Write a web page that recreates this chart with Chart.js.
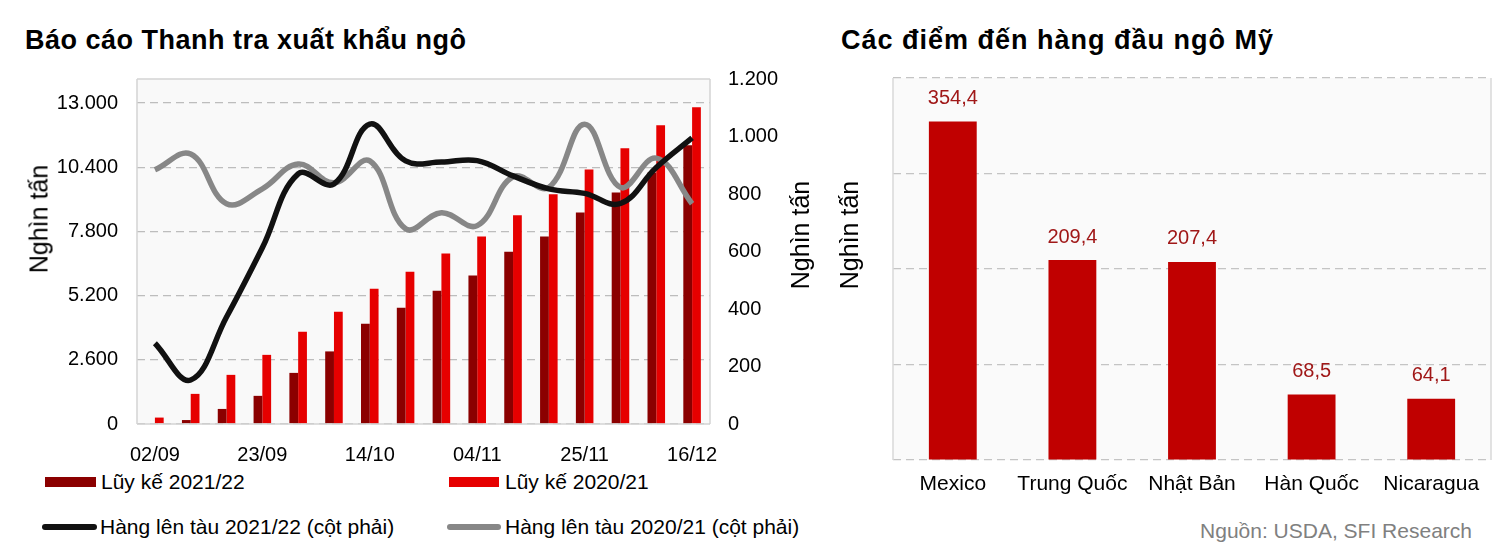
<!DOCTYPE html>
<html lang="vi">
<head>
<meta charset="utf-8">
<title>Ngô Mỹ</title>
<script src="https://cdn.jsdelivr.net/npm/chart.js@4.4.1/dist/chart.umd.min.js"></script>
<style>
    html, body { margin: 0; padding: 0; background: #fff; }
    body { width: 1493px; height: 555px; position: relative; overflow: hidden;
           font-family: "Liberation Sans", Arial, sans-serif; color: #000; }
    .abs { position: absolute; white-space: nowrap; }
    .title { font-weight: bold; font-size: 27px; letter-spacing: 0.5px; transform: translateY(-50%); }
    .ytitle { font-size: 25px; transform: translate(-50%, -50%) rotate(-90deg); }
    .legend-text { font-size: 21px; transform: translateY(-50%); }
    .swatch { position: absolute; }
    #leftWrap { position: absolute; left: 0; top: 60px; width: 830px; height: 410px; }
    #rightWrap { position: absolute; left: 830px; top: 60px; width: 663px; height: 450px; }
</style>
</head>
<body>

<div class="abs title" style="left:25px; top:40px;">Báo cáo Thanh tra xuất khẩu ngô</div>
<div class="abs title" style="left:841px; top:40px; letter-spacing:1px;">Các điểm đến hàng đầu ngô Mỹ</div>

<div id="leftWrap"><canvas id="inspectChart"></canvas></div>
<div id="rightWrap"><canvas id="destChart"></canvas></div>

<div class="abs ytitle" style="left:39px; top:219px;">Nghìn tấn</div>
<div class="abs ytitle" style="left:800px; top:235px;">Nghìn tấn</div>
<div class="abs ytitle" style="left:849px; top:235px;">Nghìn tấn</div>

<!-- legend -->
<div class="swatch" style="left:45px; top:477px; width:51px; height:10px; background:#8B0000;"></div>
<div class="abs legend-text" style="left:101px; top:482px;">Lũy kế 2021/22</div>
<div class="swatch" style="left:449px; top:477px; width:50px; height:10px; background:#E60000;"></div>
<div class="abs legend-text" style="left:505px; top:482px;">Lũy kế 2020/21</div>
<div class="swatch" style="left:42px; top:524px; width:55px; height:6px; border-radius:3px; background:#111;"></div>
<div class="abs legend-text" style="left:100px; top:527px;">Hàng lên tàu 2021/22 (cột phải)</div>
<div class="swatch" style="left:447px; top:524px; width:54px; height:6px; border-radius:3px; background:#878787;"></div>
<div class="abs legend-text" style="left:505px; top:527px;">Hàng lên tàu 2020/21 (cột phải)</div>

<div class="abs" style="right:21px; top:531px; transform:translateY(-50%); font-size:21px; color:#808080;">Nguồn: USDA, SFI Research</div>

<script>
// --- Data ---
const weeks = ['02/09', '09/09', '16/09', '23/09', '30/09', '07/10', '14/10', '21/10',
               '28/10', '04/11', '11/11', '18/11', '25/11', '02/12', '09/12', '16/12'];

// cumulative inspections, thousand tonnes (left axis)
const cum2122 = [0, 160, 610, 1140, 2070, 2940, 4060, 4710, 5400, 6010, 6980, 7590, 8570, 9380, 10190, 11290];
const cum2021 = [260, 1220, 1990, 2800, 3740, 4550, 5480, 6170, 6900, 7590, 8450, 9300, 10310, 11170, 12100, 12830];

// weekly shipments, thousand tonnes (right axis)
const ship2122 = [281, 153, 372, 613, 870, 835, 1043, 915, 911, 916, 863, 818, 802, 767, 892, 995];
const ship2021 = [884, 939, 766, 818, 904, 839, 915, 679, 735, 690, 860, 823, 1043, 823, 925, 766];

const leftTicks = [0, 2600, 5200, 7800, 10400, 13000];
const rightTicks = [0, 200, 400, 600, 800, 1000, 1200];

const destinations = ['Mexico', 'Trung Quốc', 'Nhật Bản', 'Hàn Quốc', 'Nicaragua'];
const destValues = [354.4, 209.4, 207.4, 68.5, 64.1];

// --- Helpers ---
Chart.defaults.font.family = '"Liberation Sans", Arial, sans-serif';
Chart.defaults.color = '#000';
Chart.defaults.animation = false;

const fmtThousands = v => Number(v).toLocaleString('de-DE');

// fixed axis size, no extra label padding
const fixWidth = w => s => { s.width = w; s.paddingTop = 0; s.paddingBottom = 0; };

// plot area background + border lines
const plotBox = {
    id: 'plotBox',
    beforeDraw(chart, args, opts) {
        const {ctx, chartArea: a} = chart;
        ctx.save();
        ctx.fillStyle = opts.fill || '#f9f9f9';
        ctx.fillRect(a.left, a.top, a.right - a.left, a.bottom - a.top);
        ctx.restore();
    },
    afterDatasetsDraw(chart, args, opts) {
        const {ctx, chartArea: a} = chart;
        ctx.save();
        ctx.strokeStyle = opts.stroke || '#d9d9d9';
        ctx.lineWidth = 1.5;
        ctx.beginPath();
        (opts.sides || ['left', 'right', 'top', 'bottom']).forEach(s => {
            if (s === 'left') { ctx.moveTo(a.left, a.top); ctx.lineTo(a.left, a.bottom); }
            if (s === 'right') { ctx.moveTo(a.right, a.top); ctx.lineTo(a.right, a.bottom); }
            if (s === 'top') { ctx.moveTo(a.left, a.top); ctx.lineTo(a.right, a.top); }
            if (s === 'bottom') { ctx.moveTo(a.left, a.bottom); ctx.lineTo(a.right, a.bottom); }
        });
        ctx.stroke();
        ctx.restore();
    }
};

// value labels above bars (comma decimal)
const barLabels = {
    id: 'barLabels',
    afterDatasetsDraw(chart) {
        const {ctx} = chart;
        const meta = chart.getDatasetMeta(0);
        ctx.save();
        ctx.fillStyle = '#A01818';
        ctx.font = '20px "Liberation Sans", Arial, sans-serif';
        ctx.textAlign = 'center';
        ctx.textBaseline = 'bottom';
        meta.data.forEach((bar, i) => {
            const txt = destValues[i].toFixed(1).replace('.', ',');
            ctx.fillText(txt, bar.x, bar.y - 13);
        });
        ctx.restore();
    }
};

// --- Left chart: inspections + shipments ---
function initInspectChart() {
    const ctx = document.getElementById('inspectChart').getContext('2d');
    return new Chart(ctx, {
        data: {
            labels: weeks,
            datasets: [
                {
                    type: 'line', label: 'Hàng lên tàu 2021/22 (cột phải)', data: ship2122,
                    yAxisID: 'yR', borderColor: '#111', borderWidth: 5.5, pointRadius: 0,
                    tension: 0.4, fill: false, order: 0
                },
                {
                    type: 'line', label: 'Hàng lên tàu 2020/21 (cột phải)', data: ship2021,
                    yAxisID: 'yR', borderColor: '#878787', borderWidth: 5.5, pointRadius: 0,
                    tension: 0.4, fill: false, order: 1
                },
                {
                    type: 'bar', label: 'Lũy kế 2021/22', data: cum2122, yAxisID: 'yL',
                    backgroundColor: '#8B0000', categoryPercentage: 0.49, barPercentage: 1, order: 2
                },
                {
                    type: 'bar', label: 'Lũy kế 2020/21', data: cum2021, yAxisID: 'yL',
                    backgroundColor: '#E60000', categoryPercentage: 0.49, barPercentage: 1, order: 3
                }
            ]
        },
        options: {
            responsive: true,
            maintainAspectRatio: false,
            layout: { padding: { top: 19, left: 0, right: 0, bottom: 0 } },
            plugins: {
                legend: { display: false },
                tooltip: { enabled: false },
                plotBox: { fill: '#f9f9f9', stroke: '#d4d4d4' }
            },
            scales: {
                x: {
                    offset: true,
                    grid: { display: false },
                    border: { display: false },
                    ticks: {
                        autoSkip: false, maxRotation: 0, padding: 11,
                        font: { size: 20 }, color: '#000',
                        callback: (v, i) => (i % 3 === 0 ? weeks[i] : '')
                    },
                    afterFit: s => { s.height = 46; }
                },
                yL: {
                    position: 'left',
                    min: 0, max: 13972,
                    afterBuildTicks: s => { s.ticks = leftTicks.map(v => ({ value: v })); },
                    grid: { color: '#bdbdbd', lineWidth: 1.2, drawTicks: false },
                    border: { display: false, dash: [8, 5] },
                    ticks: { padding: 19, font: { size: 20 }, color: '#000', callback: fmtThousands },
                    afterFit: fixWidth(137)
                },
                yR: {
                    position: 'right',
                    min: 0, max: 1200,
                    afterBuildTicks: s => { s.ticks = rightTicks.map(v => ({ value: v })); },
                    grid: { display: false, drawTicks: false },
                    border: { display: false },
                    ticks: { padding: 18, font: { size: 20 }, color: '#000', callback: fmtThousands },
                    afterFit: fixWidth(120)
                }
            }
        },
        plugins: [plotBox]
    });
}

// --- Right chart: top destinations ---
function initDestChart() {
    const ctx = document.getElementById('destChart').getContext('2d');
    return new Chart(ctx, {
        type: 'bar',
        data: {
            labels: destinations,
            datasets: [{
                label: 'Nghìn tấn', data: destValues, backgroundColor: '#C00000',
                categoryPercentage: 0.4, barPercentage: 1
            }]
        },
        options: {
            responsive: true,
            maintainAspectRatio: false,
            layout: { padding: { top: 18, left: 0, right: 2, bottom: 0 } },
            plugins: {
                legend: { display: false },
                tooltip: { enabled: false },
                plotBox: { fill: '#fafafa', stroke: '#d9d9d9', sides: ['left', 'right'] }
            },
            scales: {
                x: {
                    grid: { display: false },
                    border: { display: false },
                    ticks: { padding: 4, font: { size: 21 }, color: '#000' },
                    afterFit: s => { s.height = 50; }
                },
                y: {
                    min: 0, max: 400,
                    ticks: { display: false, stepSize: 100 },
                    grid: { color: '#c4c4c4', lineWidth: 1.2, drawTicks: false },
                    border: { display: false, dash: [8, 5] },
                    afterFit: fixWidth(63)
                }
            }
        },
        plugins: [plotBox, barLabels]
    });
}

function init() {
    initInspectChart();
    initDestChart();
}

document.addEventListener('DOMContentLoaded', init);
</script>
</body>
</html>
